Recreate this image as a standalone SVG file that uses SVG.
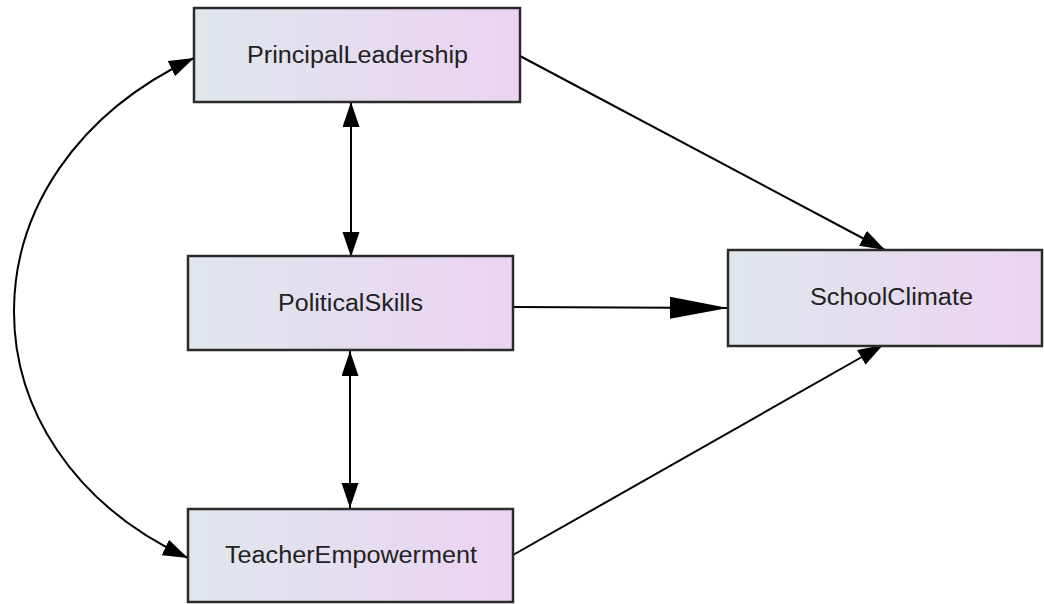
<svg xmlns="http://www.w3.org/2000/svg" width="1044" height="604" viewBox="0 0 1044 604">
<style>
.box{fill:url(#g);stroke:#2b2b2b;stroke-width:2.5}
.lbl{font-family:"Liberation Sans",Arial,sans-serif;font-size:23.5px;fill:#222;text-anchor:middle}
.c{fill:none;stroke:#000;stroke-width:2}
</style>
<defs>
<linearGradient id="g" x1="0" y1="0" x2="1" y2="0">
<stop offset="0" stop-color="#dfe7ec"/>
<stop offset="1" stop-color="#ecd3f3"/>
</linearGradient>
<marker id="a" markerUnits="userSpaceOnUse" markerWidth="26" markerHeight="18" refX="25" refY="8.5" orient="auto-start-reverse">
<path d="M0,0 L25,8.5 L0,17 z" fill="#000"/>
</marker>
<marker id="b" markerUnits="userSpaceOnUse" markerWidth="60" markerHeight="24" refX="58" refY="11" orient="auto">
<path d="M0,0 L58,11 L0,22 z" fill="#000"/>
</marker>
</defs>
<rect width="1044" height="604" fill="#fff"/>
<g id="connectors">
<path class="c" d="M351,102 L351,257" marker-start="url(#a)" marker-end="url(#a)"/>
<path class="c" d="M350,351 L350,508" marker-start="url(#a)" marker-end="url(#a)"/>
<path class="c" d="M520,56 L885,250" marker-end="url(#a)"/>
<path class="c" d="M513,307 L728,308" marker-end="url(#b)"/>
<path class="c" d="M513,555 L883,345" marker-end="url(#a)"/>
<path class="c" d="M194,58 C-45,170 -45,450 188,558" marker-start="url(#a)" marker-end="url(#a)"/>
</g>
<g id="PrincipalLeadership">
<rect class="box" x="194" y="8" width="326" height="94"/>
<text class="lbl" x="357.5" y="63" textLength="221" lengthAdjust="spacingAndGlyphs">PrincipalLeadership</text>
</g>
<g id="PoliticalSkills">
<rect class="box" x="188" y="256" width="325" height="94"/>
<text class="lbl" x="350.5" y="311" textLength="145" lengthAdjust="spacingAndGlyphs">PoliticalSkills</text>
</g>
<g id="TeacherEmpowerment">
<rect class="box" x="188" y="509" width="325" height="93"/>
<text class="lbl" x="351" y="563" textLength="252" lengthAdjust="spacingAndGlyphs">TeacherEmpowerment</text>
</g>
<g id="SchoolClimate">
<rect class="box" x="728" y="250" width="314" height="96"/>
<text class="lbl" x="891.5" y="305" textLength="163" lengthAdjust="spacingAndGlyphs">SchoolClimate</text>
</g>
</svg>
